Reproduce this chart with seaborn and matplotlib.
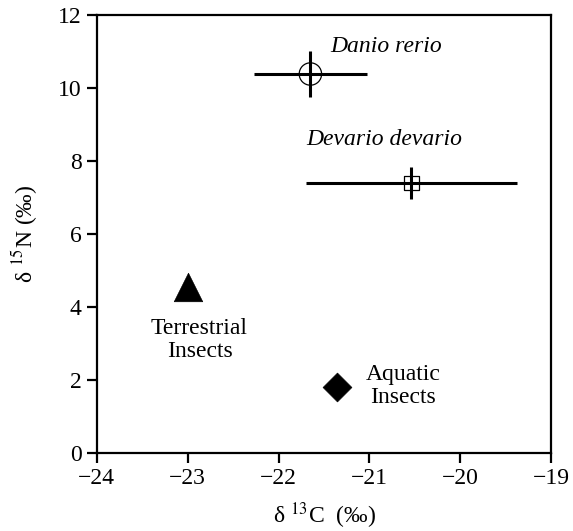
import matplotlib
matplotlib.use("Agg")
import matplotlib.pyplot as plt
import seaborn as sns
import pandas as pd

groups = ["Danio rerio", "Devario devario", "Terrestrial Insects", "Aquatic Insects"]
d13C = [-21.65, -20.54, -23.0, -21.36]
d15N = [10.38, 7.40, 4.55, 1.81]
sd13C = [0.62, 1.16, 0.0, 0.0]
sd15N = [0.63, 0.44, 0.0, 0.0]
xticks = [-24, -23, -22, -21, -20, -19]
yticks = [0, 2, 4, 6, 8, 10, 12]

df = pd.DataFrame({"group": groups, "x": d13C, "y": d15N, "sx": sd13C, "sy": sd15N})

sns.set_theme(style="ticks")
plt.rcParams["font.family"] = ["Liberation Serif", "DejaVu Serif"]
plt.rcParams["mathtext.fontset"] = "stix"
plt.rcParams["text.color"] = "black"
plt.rcParams["axes.labelcolor"] = "black"

fig = plt.figure(figsize=(5.73, 5.31), dpi=100)
ax = fig.add_axes([0.169, 0.147, 0.793, 0.825])

fish = df.iloc[:2]
ax.errorbar(fish["x"], fish["y"], xerr=fish["sx"], yerr=fish["sy"], fmt="none",
            ecolor="black", elinewidth=2.2, capsize=0, zorder=2)

styles = {
    "Danio rerio": dict(marker="o", s=260, facecolor="none", edgecolor="black", linewidth=0.9),
    "Devario devario": dict(marker="s", s=110, facecolor="none", edgecolor="black", linewidth=0.9),
    "Terrestrial Insects": dict(marker="^", s=420, facecolor="black", edgecolor="black", linewidth=0.5),
    "Aquatic Insects": dict(marker="D", s=215, facecolor="black", edgecolor="black", linewidth=0.5),
}
for g in groups:
    sub = df[df["group"] == g]
    sns.scatterplot(data=sub, x="x", y="y", ax=ax, legend=False, zorder=3, **styles[g])

ax.set_xlim(-24, -19)
ax.set_ylim(0, 12)
ax.set_xticks(xticks)
ax.set_xticklabels([f"\u2212{abs(t)}" for t in xticks])
ax.set_yticks(yticks)
ax.set_yticklabels([str(t) for t in yticks])
ax.tick_params(direction="out", length=7, width=1.6, labelsize=17, colors="black", pad=4)
for sp in ax.spines.values():
    sp.set_linewidth(1.6)
    sp.set_color("black")
    sp.set_visible(True)

ax.set_xlabel("\u03b4 $^{13}$C  (\u2030)", fontsize=17, labelpad=8)
ax.set_ylabel("\u03b4 $^{15}$N (\u2030)", fontsize=17, labelpad=13)

ax.text(-21.43, 11.12, "Danio rerio", style="italic", fontsize=17, ha="left", va="center")
ax.text(-21.69, 8.58, "Devario devario", style="italic", fontsize=17, ha="left", va="center")
ax.text(-22.87, 3.10, "Terrestrial\nInsects", fontsize=17, ha="center", va="center", linespacing=1.15)
ax.text(-20.63, 1.84, "Aquatic\nInsects", fontsize=17, ha="center", va="center", linespacing=1.1)

fig.savefig("out.png", dpi=100)
